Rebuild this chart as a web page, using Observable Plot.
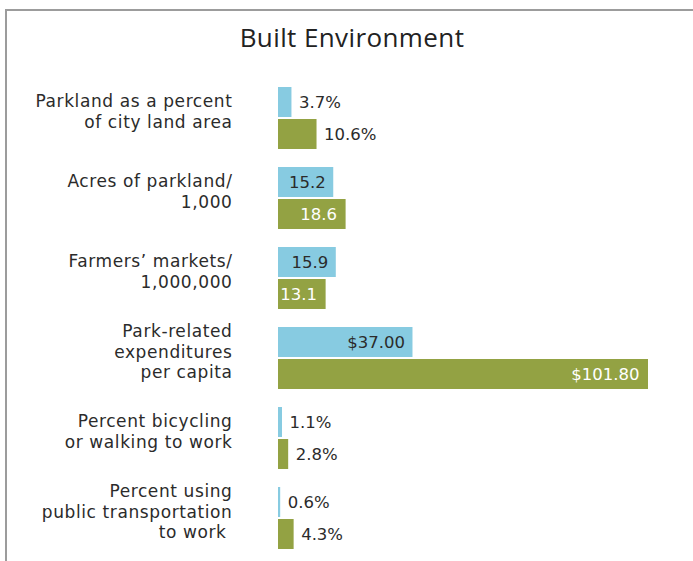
<!DOCTYPE html>
<html>
<head>
<meta charset="utf-8">
<script src="https://cdn.jsdelivr.net/npm/d3@7"></script>
<script src="https://cdn.jsdelivr.net/npm/@observablehq/plot@0.6"></script>
<style>
  body { margin: 0; background: #fff; width: 693px; height: 561px; overflow: hidden; position: relative; }
  #frame { position: absolute; left: 5px; top: 9px; width: 720px; height: 600px;
           border-top: 2px solid #9c9c9c; border-left: 2px solid #9c9c9c; }
  #title { position: absolute; left: 0; top: 19px; width: 704px; text-align: center;
           font-family: "Open Sans", sans-serif; font-size: 26px; color: #222; font-weight: 400; letter-spacing: 0.4px; }
  #chart { position: absolute; left: 0; top: 60px; }
</style>
</head>
<body>
<div id="frame"></div>
<div id="title">Built Environment</div>
<div id="chart"></div>
<script>
const categories = [
  "Parkland as a percent\nof city land area",
  "Acres of parkland/\n1,000",
  "Farmers’ markets/\n1,000,000",
  "Park-related\nexpenditures\nper capita",
  "Percent bicycling\nor walking to work",
  "Percent using\npublic transportation\nto work "
];
const series = ["City", "Comparison"];
const cityValues = [3.7, 15.2, 15.9, 37.0, 1.1, 0.6];
const comparisonValues = [10.6, 18.6, 13.1, 101.8, 2.8, 4.3];
const units = ["%", "", "", "$", "%", "%"];

const fmt = (v, u) => u === "$" ? "$" + v.toFixed(2) : v.toFixed(1) + u;
const rows = [];
categories.forEach((c, i) => {
  rows.push({category: c, series: "City", value: cityValues[i], label: fmt(cityValues[i], units[i])});
  rows.push({category: c, series: "Comparison", value: comparisonValues[i], label: fmt(comparisonValues[i], units[i])});
});

const font = "DejaVu Sans, sans-serif";
const fs = 16.5;
const inside = d => d.value >= 12;

const chart = Plot.plot({
  width: 693,
  height: 500,
  marginLeft: 278,
  marginRight: 45,
  marginTop: 27,
  marginBottom: 11,
  style: {fontFamily: font, fontSize: fs + "px", background: "transparent"},
  x: {domain: [0, 101.8], axis: null},
  y: {domain: series, axis: null, paddingInner: 0.07, paddingOuter: 0},
  fy: {domain: categories, axis: null, paddingInner: 0.225, paddingOuter: 0},
  color: {domain: series, range: ["#87cbe1", "#93a243"]},
  marks: [
    Plot.barX(rows, {x: "value", y: "series", fy: "category", fill: "series"}),
    Plot.text(rows, {filter: d => !inside(d), x: "value", y: "series", fy: "category", text: "label",
      textAnchor: "start", dx: 7, fill: "#2b2b2b", fontSize: fs}),
    Plot.text(rows, {filter: d => inside(d) && d.series === "City", x: "value", y: "series", fy: "category", text: "label",
      textAnchor: "end", dx: -8, fill: "#2b2b2b", fontSize: fs}),
    Plot.text(rows, {filter: d => inside(d) && d.series === "Comparison", x: "value", y: "series", fy: "category", text: "label",
      textAnchor: "end", dx: -9, fill: "#ffffff", fontSize: fs}),
    Plot.text(categories, {fy: d => d, text: d => d, frameAnchor: "left", textAnchor: "end",
      dx: -46, dy: -7.5, lineHeight: 1.2, fill: "#2b2b2b", fontSize: 17})
  ]
});
document.getElementById("chart").appendChild(chart);
// letter-spacing for the category labels (last text group)
const groups = chart.querySelectorAll('g[aria-label="text"]');
if (groups.length) groups[groups.length - 1].setAttribute("letter-spacing", "0.6");
</script>
</body>
</html>
